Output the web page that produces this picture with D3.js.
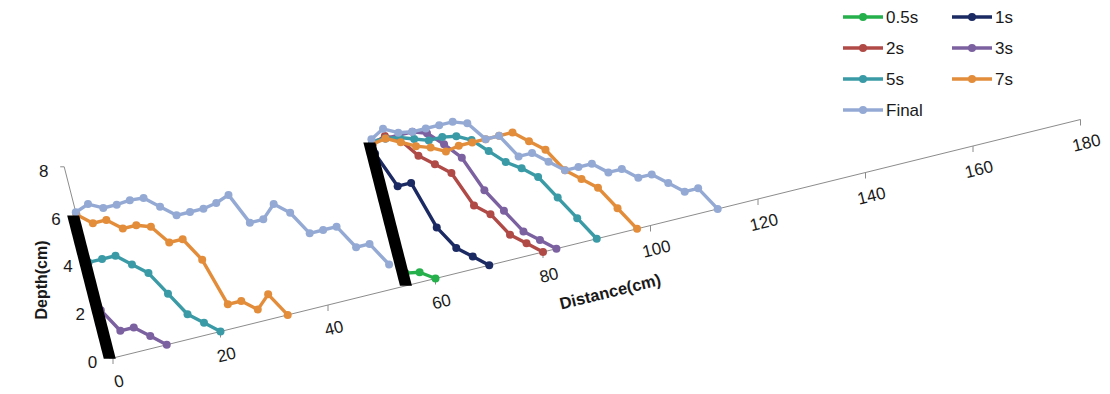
<!DOCTYPE html>
<html>
<head>
<meta charset="utf-8">
<script src="https://cdn.jsdelivr.net/npm/d3@7"></script>
<style>
  body { margin: 0; background: #fff; }
  svg { display: block; font-family: "Liberation Sans", Arial, sans-serif; }
</style>
</head>
<body>
<svg id="chart" width="1110" height="394"></svg>
<script>
// distances (cm) upstream and downstream of the second wall
const upDistance = [0, 2.5, 5, 7.5, 10, 12.5, 15, 17.5, 20, 22.5, 25, 27.5, 30, 32.5, 35, 37.5, 40, 42.5, 45, 47.5, 50, 52.5];
const downDistance = [55, 57.5, 60, 62.5, 65, 67.5, 70, 72.5, 75, 77.5, 80, 82.5, 85, 87.5, 90, 92.5, 95, 97.5, 100, 102.5, 105, 107.5, 110, 112.5];

// depth (cm) for each time step
const names = ["0.5s", "1s", "2s", "3s", "5s", "7s", "Final"];
const colors = ["#25b04c", "#1b2a63", "#b04a47", "#7c61a1", "#3a9ba6", "#e38d3b", "#94aad4"];
const upDepth = [
  [],
  [],
  [],
  [2.0, 1.0, 1.0, 0.5, 0.0],
  [4.0, 4.0, 4.0, 3.5, 3.0, 2.0, 1.0, 0.5, 0.0],
  [6.0, 5.5, 5.5, 5.0, 5.0, 4.8, 4.0, 4.0, 3.0, 1.0, 1.0, 0.5, 1.0, 0.0],
  [6.1, 6.3, 6.0, 6.0, 6.05, 6.0, 5.5, 5.0, 5.0, 5.0, 5.1, 5.3, 4.0, 4.0, 4.5, 4.0, 3.0, 3.0, 3.0, 2.0, 2.0, 1.0]
];
const downDepth = [
  [0.5, 0.4, 0.0],
  [5.5, 4.0, 4.0, 2.0, 1.0, 0.5, 0.0],
  [5.9, 6.1, 5.8, 5.0, 4.5, 4.0, 2.5, 2.0, 1.0, 0.5, 0.0],
  [6.0, 6.0, 6.0, 6.0, 5.8, 5.2, 4.5, 3.0, 2.0, 1.0, 0.5, 0.0],
  [6.0, 6.0, 5.9, 5.7, 5.5, 5.5, 5.4, 5.1, 4.5, 3.9, 3.5, 3.0, 2.0, 1.0, 0.0],
  [5.9, 6.0, 5.7, 5.4, 5.2, 4.9, 5.0, 5.0, 5.0, 5.0, 5.0, 4.5, 4.0, 3.0, 2.5, 2.0, 1.0, 0.0],
  [6.1, 6.4, 6.1, 6.0, 6.0, 6.0, 6.0, 5.8, 5.0, 5.0, 4.0, 4.0, 3.5, 3.0, 3.0, 3.0, 2.5, 2.5, 2.0, 2.0, 1.5, 1.0, 1.0, 0.0]
];

// the two black walls
const wallDistance = [-0.6, 54.5];
const wallHeight = 6;

const svg = d3.select("#chart");

// skewed (oblique) projection: distance runs up-right, depth runs up-left
const distX = d3.scaleLinear([0, 180], [113, 1080.5]);
const distY = d3.scaleLinear([0, 180], [358, 119.5]);
const depthX = d3.scaleLinear([0, 8], [0, -48.8]);
const depthY = d3.scaleLinear([0, 8], [0, -191.2]);
const project = (dist, depth) => [distX(dist) + depthX(depth), distY(dist) + depthY(depth)];
const angle = Math.atan2(distY(180) - distY(0), distX(180) - distX(0)) * 180 / Math.PI;

const axisColor = "#8c8c8c";
const textColor = "#1a1a1a";

//Distance axis
const xAxis = svg.append("g");
xAxis.append("line")
  .attr("x1", distX(0)).attr("y1", distY(0))
  .attr("x2", distX(180)).attr("y2", distY(180))
  .attr("stroke", axisColor).attr("stroke-width", 1);
const xTicks = distX.ticks(9);
xAxis.selectAll(".tick")
  .data(xTicks)
  .join("line")
  .attr("x1", d => distX(d)).attr("y1", d => distY(d))
  .attr("x2", d => distX(d)).attr("y2", d => distY(d) + 6)
  .attr("stroke", axisColor);
xAxis.selectAll("text")
  .data(xTicks)
  .join("text")
  .attr("transform", d => `translate(${distX(d) + 6}, ${distY(d) + 23.5}) rotate(${angle})`)
  .attr("text-anchor", "middle")
  .attr("dominant-baseline", "central")
  .attr("font-size", 17)
  .attr("fill", textColor)
  .text(d => d);

//Depth axis
const yAxis = svg.append("g");
const yTop = project(0, 8);
const yBottom = project(0, 0);
yAxis.append("line")
  .attr("x1", yTop[0]).attr("y1", yTop[1])
  .attr("x2", yBottom[0]).attr("y2", yBottom[1])
  .attr("stroke", axisColor);
const yTicks = d3.range(0, 9, 2);
yAxis.selectAll(".tick")
  .data(yTicks)
  .join("line")
  .attr("x1", d => project(0, d)[0] - 4).attr("y1", d => project(0, d)[1])
  .attr("x2", d => project(0, d)[0]).attr("y2", d => project(0, d)[1])
  .attr("stroke", axisColor);
yAxis.selectAll("text")
  .data(yTicks)
  .join("text")
  .attr("x", d => project(0, d)[0] - 20.5)
  .attr("y", d => project(0, d)[1] + 4.5)
  .attr("text-anchor", "middle")
  .attr("dominant-baseline", "central")
  .attr("font-size", 17)
  .attr("fill", textColor)
  .text(d => d);

//Axis titles
const xTitle = project(90, -2.2);
svg.append("text")
  .attr("transform", `translate(${xTitle[0]}, ${xTitle[1]}) rotate(${angle})`)
  .attr("text-anchor", "middle")
  .attr("dominant-baseline", "central")
  .attr("font-size", 16.5)
  .attr("font-weight", "bold")
  .attr("fill", textColor)
  .text("Distance(cm)");
svg.append("text")
  .attr("transform", `translate(41, 280) rotate(-90)`)
  .attr("text-anchor", "middle")
  .attr("dominant-baseline", "central")
  .attr("font-size", 16)
  .attr("font-weight", "bold")
  .attr("fill", textColor)
  .text("Depth(cm)");

//Profiles
const line = d3.line()
  .x(d => project(d[0], d[1])[0])
  .y(d => project(d[0], d[1])[1]);

const plot = svg.append("g");
names.forEach((name, i) => {
  const parts = [
    upDepth[i].map((v, j) => [upDistance[j], v]),
    downDepth[i].map((v, j) => [downDistance[j], v])
  ].filter(p => p.length);
  const g = plot.append("g");
  g.selectAll("path")
    .data(parts)
    .join("path")
    .attr("d", line)
    .attr("fill", "none")
    .attr("stroke", colors[i])
    .attr("stroke-width", 3.4)
    .attr("stroke-linejoin", "round");
  g.selectAll("circle")
    .data(parts.flat())
    .join("circle")
    .attr("cx", d => project(d[0], d[1])[0])
    .attr("cy", d => project(d[0], d[1])[1])
    .attr("r", 4)
    .attr("fill", colors[i]);
});

//Walls, drawn on top
svg.append("g")
  .selectAll("polygon")
  .data(wallDistance)
  .join("polygon")
  .attr("points", d => {
    const top = project(d, wallHeight);
    const bottom = project(d, 0);
    return [[top[0] - 6, top[1]], [top[0] + 6, top[1]], [bottom[0] + 6, bottom[1]], [bottom[0] - 6, bottom[1]]].join(" ");
  })
  .attr("fill", "#000");

//Legend
const legend = svg.append("g").attr("transform", "translate(843, 17)");
const item = legend.selectAll("g")
  .data(names)
  .join("g")
  .attr("transform", (d, i) => `translate(${(i % 2) * 109}, ${Math.floor(i / 2) * 31})`);
item.append("line")
  .attr("x1", 0).attr("x2", 40)
  .attr("stroke", (d, i) => colors[i])
  .attr("stroke-width", 3.4);
item.append("circle")
  .attr("cx", 20)
  .attr("r", 4)
  .attr("fill", (d, i) => colors[i]);
item.append("text")
  .attr("x", 43)
  .attr("dominant-baseline", "central")
  .attr("font-size", 17)
  .attr("fill", textColor)
  .text(d => d);
</script>
</body>
</html>
